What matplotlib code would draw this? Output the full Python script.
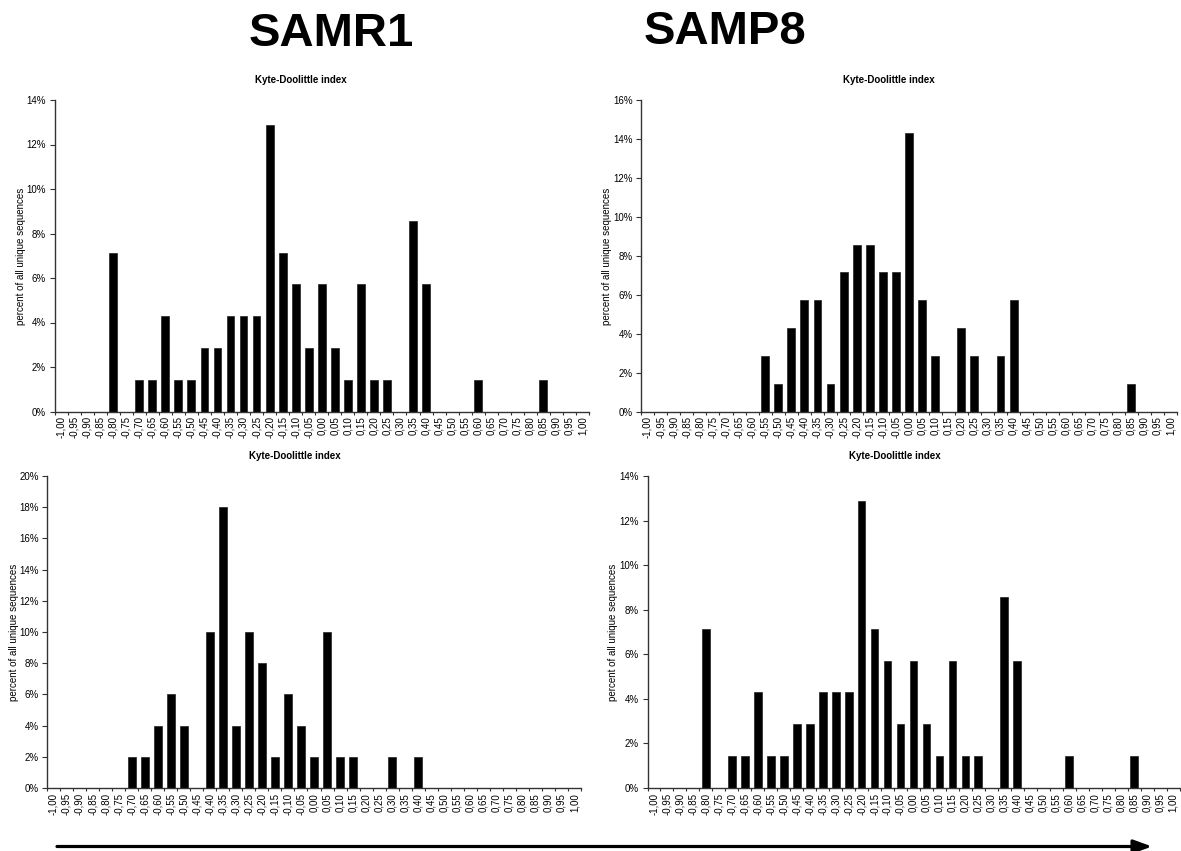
import matplotlib

matplotlib.use("Agg")
import matplotlib.pyplot as plt
from matplotlib.patches import FancyArrowPatch
from matplotlib.ticker import FixedLocator, FuncFormatter

plt.rcParams["font.family"] = ["Liberation Sans", "DejaVu Sans"]

W, H = 1181, 851

BIN_LABELS = [
    "-1,00", "-0,95", "-0,90", "-0,85", "-0,80", "-0,75", "-0,70", "-0,65", "-0,60", "-0,55",
    "-0,50", "-0,45", "-0,40", "-0,35", "-0,30", "-0,25", "-0,20", "-0,15", "-0,10", "-0,05",
    "0,00", "0,05", "0,10", "0,15", "0,20", "0,25", "0,30", "0,35", "0,40", "0,45",
    "0,50", "0,55", "0,60", "0,65", "0,70", "0,75", "0,80", "0,85", "0,90", "0,95", "1,00",
]

# percent of all unique sequences per Kyte-Doolittle bin
samr1_top = [
    0, 0, 0, 0, 7.14, 0, 1.43, 1.43, 4.29, 1.43,
    1.43, 2.86, 2.86, 4.29, 4.29, 4.29, 12.86, 7.14, 5.71, 2.86,
    5.71, 2.86, 1.43, 5.71, 1.43, 1.43, 0, 8.57, 5.71, 0,
    0, 0, 1.43, 0, 0, 0, 0, 1.43, 0, 0, 0,
]
samp8_top = [
    0, 0, 0, 0, 0, 0, 0, 0, 0, 2.86,
    1.43, 4.29, 5.71, 5.71, 1.43, 7.14, 8.57, 8.57, 7.14, 7.14,
    14.29, 5.71, 2.86, 0, 4.29, 2.86, 0, 2.86, 5.71, 0,
    0, 0, 0, 0, 0, 0, 0, 1.43, 0, 0, 0,
]
samr1_bottom = [
    0, 0, 0, 0, 0, 0, 2, 2, 4, 6,
    4, 0, 10, 18, 4, 10, 8, 2, 6, 4,
    2, 10, 2, 2, 0, 0, 2, 0, 2, 0,
    0, 0, 0, 0, 0, 0, 0, 0, 0, 0, 0,
]
samp8_bottom = [
    0, 0, 0, 0, 7.14, 0, 1.43, 1.43, 4.29, 1.43,
    1.43, 2.86, 2.86, 4.29, 4.29, 4.29, 12.86, 7.14, 5.71, 2.86,
    5.71, 2.86, 1.43, 5.71, 1.43, 1.43, 0, 8.57, 5.71, 0,
    0, 0, 1.43, 0, 0, 0, 0, 1.43, 0, 0, 0,
]

PANEL_TITLE = "Kyte-Doolittle index"
Y_LABEL = "percent of all unique sequences"


def px_axes(fig, x0, y0, x1, y1):
    return fig.add_axes([x0 / W, 1 - y1 / H, (x1 - x0) / W, (y1 - y0) / H])


def draw_panel(fig, box, values, ymax, title_xy, ylabel_xy):
    ax = px_axes(fig, *box)
    n = len(BIN_LABELS)
    ax.bar(range(n), values, width=0.6, color="black", edgecolor="#222222", linewidth=0.5)
    ax.set_xlim(-0.5, n - 0.5)
    ax.set_ylim(0, ymax)
    for side in ("top", "right"):
        ax.spines[side].set_visible(False)
    for side in ("left", "bottom"):
        ax.spines[side].set_color("#333333")
        ax.spines[side].set_linewidth(1.0)
    ax.xaxis.set_major_locator(FixedLocator([i - 0.5 for i in range(n + 1)]))
    ax.xaxis.set_major_formatter(FuncFormatter(lambda v, p: ""))
    ax.xaxis.set_minor_locator(FixedLocator(list(range(n))))
    ax.xaxis.set_minor_formatter(FuncFormatter(lambda v, p: BIN_LABELS[int(round(v))]))
    ax.tick_params(axis="x", which="major", direction="out", length=2.5, width=0.8, color="#333333")
    ax.tick_params(axis="x", which="minor", length=0, pad=3.5, labelsize=7, labelrotation=90)
    ax.set_yticks(range(0, ymax + 1, 2))
    ax.yaxis.set_major_formatter(FuncFormatter(lambda v, p: f"{int(v)}%"))
    ax.tick_params(axis="y", direction="out", length=3.5, width=0.8, color="#333333",
                   pad=2.5, labelsize=7)
    fig.text(title_xy[0] / W, 1 - title_xy[1] / H, PANEL_TITLE, ha="center", va="center",
             fontsize=7, fontweight="bold")
    fig.text(ylabel_xy[0] / W, 1 - ylabel_xy[1] / H, Y_LABEL, ha="center", va="center",
             rotation=90, fontsize=7)
    return ax


fig = plt.figure(figsize=(W / 100, H / 100), dpi=100)

draw_panel(fig, (54.5, 100, 589, 411.5), samr1_top, 14, (301, 80), (20.7, 256))
draw_panel(fig, (641, 100, 1177, 411.5), samp8_top, 16, (889, 80), (607, 256))
draw_panel(fig, (47, 476, 581, 788), samr1_bottom, 20, (295, 456), (14, 632))
draw_panel(fig, (647.5, 476, 1179.5, 788), samp8_bottom, 14, (895, 456), (613, 632))

fig.text(331 / W, 1 - 46.5 / H, "SAMR1", ha="center", va="baseline", fontsize=34, fontweight="bold")
fig.text(725 / W, 1 - 43.5 / H, "SAMP8", ha="center", va="baseline", fontsize=34, fontweight="bold")

arrow_y = 1 - 846.5 / H
fig.add_artist(FancyArrowPatch((57 / W, arrow_y), (1152 / W, arrow_y), transform=fig.transFigure,
                               arrowstyle="-|>,head_length=11,head_width=4", mutation_scale=1,
                               linewidth=2.3, color="black", shrinkA=0, shrinkB=0))

fig.savefig("out.png", dpi=100)
plt.close(fig)
